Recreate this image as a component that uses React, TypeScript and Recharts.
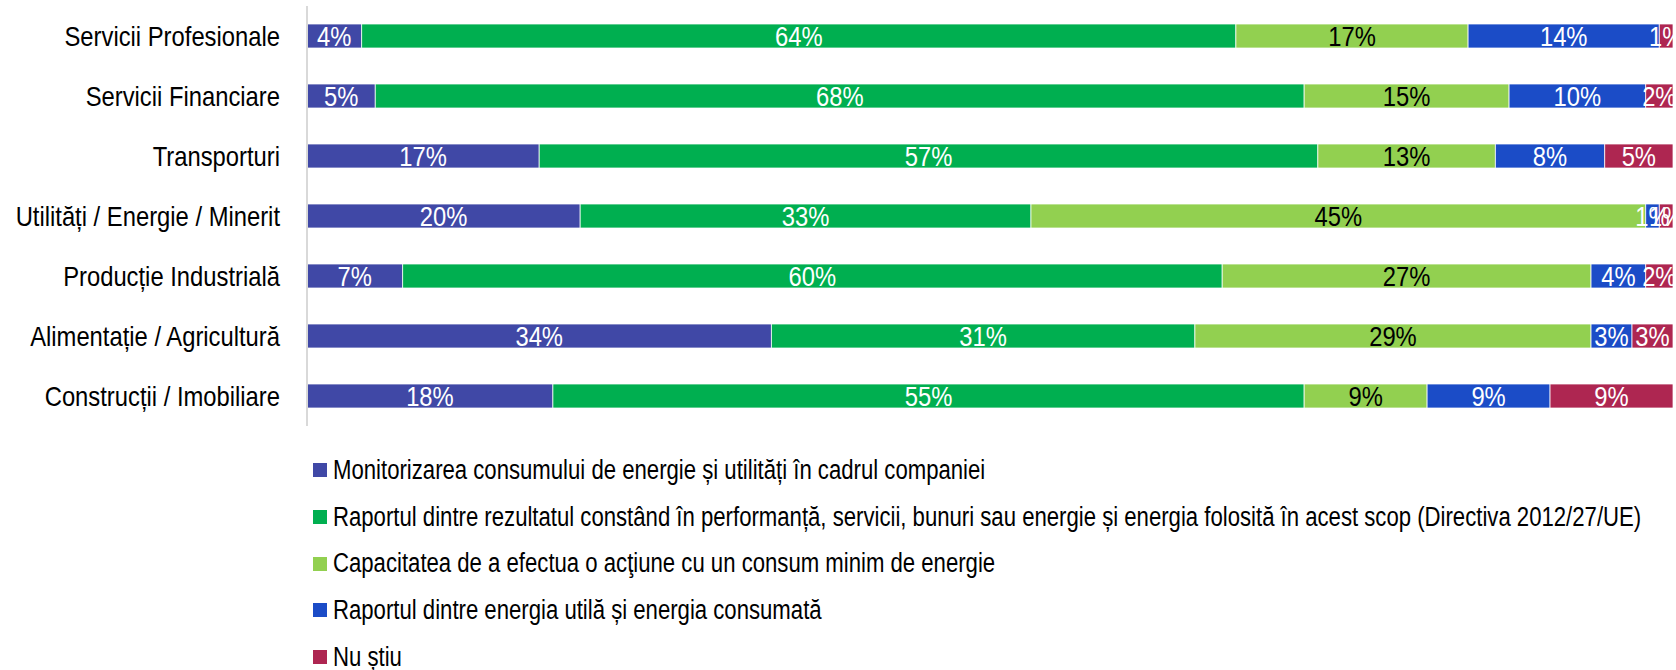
import { BarChart, Bar, XAxis, YAxis, Legend, LabelList } from "recharts";

const categories = [
  "Servicii Profesionale",
  "Servicii Financiare",
  "Transporturi",
  "Utilități / Energie / Minerit",
  "Producție Industrială",
  "Alimentație / Agricultură",
  "Construcții / Imobiliare",
];

const monitorizare = [4, 5, 17, 20, 7, 34, 18];
const raportRezultat = [64, 68, 57, 33, 60, 31, 55];
const capacitate = [17, 15, 13, 45, 27, 29, 9];
const raportEnergie = [14, 10, 8, 1, 4, 3, 9];
const nuStiu = [1, 2, 5, 1, 2, 3, 9];

const seriesNames = [
  "Monitorizarea consumului de energie și utilități în cadrul companiei",
  "Raportul dintre rezultatul constând în performanță, servicii, bunuri sau energie și energia folosită în acest scop (Directiva 2012/27/UE)",
  "Capacitatea de a efectua o acţiune cu un consum minim de energie",
  "Raportul dintre energia utilă și energia consumată",
  "Nu știu",
];

// no Arial Narrow here, so Liberation Sans squeezed horizontally
const FONT = "'Liberation Sans', Arial, sans-serif";
const NARROW = 0.85;
const LEGEND_NARROW = 0.82;

const series = [
  { key: "s1", name: seriesNames[0], values: monitorizare, color: "#4048A6", label: "#ffffff" },
  { key: "s2", name: seriesNames[1], values: raportRezultat, color: "#00AF50", label: "#ffffff" },
  { key: "s3", name: seriesNames[2], values: capacitate, color: "#92D050", label: "#000000" },
  { key: "s4", name: seriesNames[3], values: raportEnergie, color: "#1B4CC7", label: "#ffffff" },
  { key: "s5", name: seriesNames[4], values: nuStiu, color: "#AE2651", label: "#ffffff" },
];

const data = categories.map((cat, i) => {
  const row: Record<string, string | number> = { cat };
  series.forEach((s) => (row[s.key] = s.values[i]));
  return row;
});

const squeeze = (x: number, y: number) =>
  `translate(${x},${y}) scale(${NARROW},1) translate(${-x},${-y})`;

const CategoryTick = ({ x, y, payload }: any) => (
  <text
    x={x}
    y={y}
    textAnchor="end"
    dominantBaseline="central"
    fontSize={28}
    fontFamily={FONT}
    fill="#000"
    transform={squeeze(x, y)}
  >
    {payload.value}
  </text>
);

const makeLabel = (color: string) => (props: any) => {
  const { x, y, width, height, value } = props;
  const cx = x + width / 2;
  const cy = y + height / 2;
  return (
    <text
      x={cx}
      y={cy}
      textAnchor="middle"
      dominantBaseline="central"
      fontSize={28}
      fontFamily={FONT}
      fill={color}
      transform={squeeze(cx, cy)}
    >
      {`${value}%`}
    </text>
  );
};

const LegendList = () => (
  <div style={{ height: 220, fontFamily: FONT, fontSize: 27, color: "#000" }}>
    {series.map((s) => (
      <div key={s.key} style={{ height: 46.7, display: "flex", alignItems: "center", whiteSpace: "nowrap" }}>
        <span
          style={{ width: 14, height: 14, flexShrink: 0, background: s.color, display: "inline-block", marginRight: 6 }}
        />
        <span style={{ display: "inline-block", transform: `scaleX(${LEGEND_NARROW})`, transformOrigin: "left center" }}>
          {s.name}
        </span>
      </div>
    ))}
  </div>
);

export default function App() {
  return (
    <div style={{ position: "absolute", left: 0, top: 0, background: "#fff" }}>
      <BarChart
        width={1676}
        height={670}
        data={data}
        layout="vertical"
        barSize={24}
        margin={{ top: 6, right: 3, bottom: 24, left: 0 }}
      >
        <XAxis type="number" domain={[0, 100]} hide />
        <YAxis
          type="category"
          dataKey="cat"
          width={307}
          tickLine={false}
          tickSize={0}
          tickMargin={27}
          axisLine={{ stroke: "#D9D9D9", strokeWidth: 2 }}
          tick={<CategoryTick />}
          interval={0}
        />
        <Legend
          verticalAlign="bottom"
          content={() => <LegendList />}
          wrapperStyle={{ left: 313, top: 447, width: 1350, overflow: "visible" }}
        />
        {series.map((s) => (
          <Bar
            key={s.key}
            dataKey={s.key}
            name={s.name}
            stackId="a"
            fill={s.color}
            stroke="#ffffff"
            strokeWidth={0.75}
            isAnimationActive={false}
          >
            <LabelList dataKey={s.key} content={makeLabel(s.label)} />
          </Bar>
        ))}
      </BarChart>
    </div>
  );
}
